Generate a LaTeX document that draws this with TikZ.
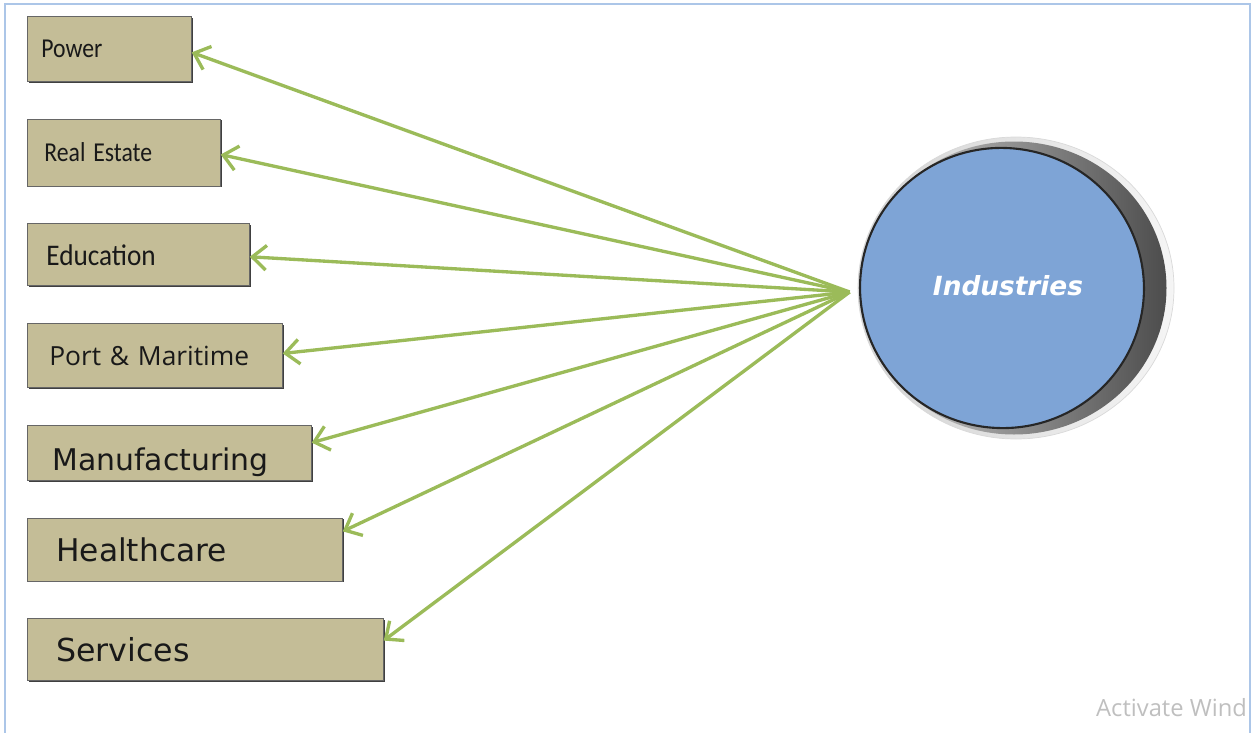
\documentclass[tikz,border=0pt]{standalone}
\usepackage{fontspec}
\usepackage{graphicx}
\usepackage{tikz}
\usetikzlibrary{shapes.geometric, arrows.meta, positioning, shadows}
\newfontfamily\carlito{Carlito}
\newfontfamily\osans{Open Sans}
\newfontfamily\dvsans{DejaVu Sans}
\definecolor{sectortan}{RGB}{196, 189, 151}
\definecolor{linkgreen}{RGB}{155, 187, 89}
\definecolor{hubblue}{RGB}{126, 164, 214}
\definecolor{frameblue}{RGB}{172, 198, 232}
\tikzset{
  sector/.style={draw=black!60, fill=sectortan, rectangle, anchor=north west, align=left, text=black!90,
    drop shadow={shadow xshift=0.8pt, shadow yshift=-0.8pt, fill=black!75, opacity=1}},
  link/.style={draw=linkgreen, line width=1.9pt, -{Straight Barb[length=8pt, width=14pt]}}
}

\begin{document}
\begin{tikzpicture}
\useasboundingbox (0,0) rectangle (25.1,-14.66);
\draw[frameblue, line width=0.9pt] (0.1,-14.66) -- (0.1,-0.08) -- (25.0,-0.08) -- (25.0,-14.66);

% sectors on the left
\node[sector, minimum height=1.30cm, text width=2.72cm, inner xsep=0.28cm, font=\carlito\fontsize{13.5}{15}\selectfont] (power) at (0.54,-0.32) {\scalebox{1}[1.15]{Power}};
\node[sector, minimum height=1.34cm, text width=3.18cm, inner xsep=0.34cm, font=\carlito\fontsize{13.5}{16}\selectfont, below right=0.74cm and 0cm of power.south west] (realest) {\scalebox{1}[1.15]{Real Estate}};
\node[sector, minimum height=1.24cm, text width=3.68cm, inner xsep=0.38cm, font=\carlito\fontsize{15.5}{18}\selectfont, below right=0.74cm and 0cm of realest.south west] (edu) {\scalebox{1}[1.1]{Education}};
\node[sector, minimum height=1.28cm, text width=4.22cm, inner xsep=0.44cm, font=\osans\fontsize{15}{18}\selectfont, below right=0.74cm and 0cm of edu.south west] (port) {Port \& Maritime};
\node[sector, minimum height=1.10cm, text width=4.68cm, inner xsep=0.50cm, font=\dvsans\fontsize{17}{19}\selectfont, below right=0.74cm and 0cm of port.south west] (mfg) {\raisebox{-0.36cm}[0pt][0pt]{Manufacturing}};
\node[sector, minimum height=1.26cm, text width=5.14cm, inner xsep=0.58cm, font=\dvsans\fontsize{17.8}{20}\selectfont, below right=0.74cm and 0cm of mfg.south west] (health) {Healthcare};
\node[sector, minimum height=1.24cm, text width=5.96cm, inner xsep=0.58cm, font=\dvsans\fontsize{18}{20}\selectfont, below right=0.74cm and 0cm of health.south west] (serv) {Services};

% the disc
\node[ellipse, minimum width=6.32cm, minimum height=6.04cm, inner sep=0pt, draw=gray!30, left color=gray!35, right color=gray!8] (rim) at (20.32,-5.76) {};
\node[ellipse, minimum width=6.1cm, minimum height=5.86cm, inner sep=0pt, left color=gray!35, right color=black!70] (rimband) at (20.28,-5.76) {};
\node[ellipse, minimum width=5.68cm, minimum height=5.6cm, inner sep=0pt, draw=black!85, line width=1.2pt, fill=hubblue, rotate=-10, text=white, font=\dvsans\bfseries\itshape\fontsize{15}{17}\selectfont] (ind) at (20.04,-5.76) {\rotatebox{10}{\hspace{0.24cm}\raisebox{0.12cm}{Industries}}};
\coordinate[below left=0.08cm and 0.16cm of rim.west] (hub);

\foreach \t/\dy in {power/-0.07, realest/-0.04, edu/-0.04, port/0.04, mfg/0.2, health/0.36, serv/0.18}
  \draw[link] (hub) -- ([yshift=\dy cm]\t.east);

\node[anchor=base west, text=black!25, font=\osans\fontsize{13.5}{16}\selectfont] (wm) at (21.8,-14.32) {Activate Wind};
\end{tikzpicture}
\end{document}
